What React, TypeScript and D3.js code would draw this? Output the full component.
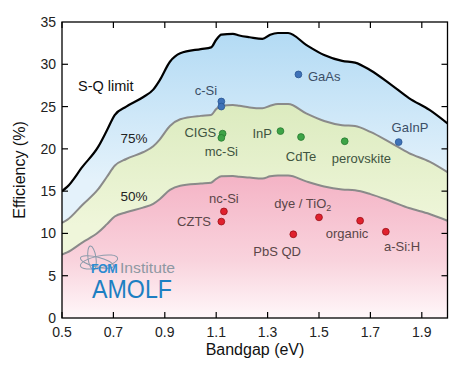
import React from "react";
import * as d3 from "d3";

const bandgap = [0.5, 0.52, 0.58, 0.64, 0.675, 0.705, 0.75, 0.815, 0.855, 0.88, 0.92, 0.96, 1.04, 1.08, 1.1, 1.12, 1.165, 1.19, 1.23, 1.28, 1.31, 1.34, 1.38, 1.45, 1.52, 1.59, 1.64, 1.7, 1.78, 1.85, 1.93, 2.0];
const sqLimit = [15.0, 15.5, 17.9, 20.2, 22.2, 24.0, 25.0, 26.1, 27.0, 28.1, 30.3, 31.3, 31.8, 32.0, 32.9, 33.5, 33.6, 33.4, 33.2, 33.0, 33.5, 33.7, 33.7, 32.3, 31.1, 30.4, 30.2, 29.3, 27.6, 26.0, 24.6, 23.0];
const limit75 = [11.25, 11.6, 13.4, 15.2, 16.7, 18.0, 18.8, 19.6, 20.3, 21.1, 22.7, 23.5, 23.9, 24.0, 24.7, 25.1, 25.2, 25.1, 24.9, 24.8, 25.1, 25.3, 25.3, 24.2, 23.3, 22.8, 22.7, 22.0, 20.7, 19.5, 18.5, 17.25];
const limit50 = [7.5, 7.75, 8.95, 10.1, 11.1, 12.0, 12.5, 13.05, 13.5, 14.05, 15.15, 15.65, 15.9, 16.0, 16.45, 16.75, 16.8, 16.7, 16.6, 16.5, 16.75, 16.85, 16.85, 16.15, 15.55, 15.2, 15.1, 14.65, 13.8, 13.0, 12.3, 11.5];

const cellGap = [1.12, 1.12, 1.42, 1.81, 1.125, 1.12, 1.35, 1.43, 1.6, 1.13, 1.12, 1.4, 1.5, 1.66, 1.76];
const cellEff = [25.6, 25.0, 28.8, 20.8, 21.8, 21.3, 22.1, 21.4, 20.9, 12.6, 11.4, 9.9, 11.9, 11.5, 10.2];
const cellClass = ["blue", "blue", "blue", "blue", "green", "green", "green", "green", "green", "red", "red", "red", "red", "red", "red"];

const labelText = ["c-Si", "GaAs", "GaInP", "CIGS", "mc-Si", "InP", "CdTe", "perovskite", "nc-Si", "CZTS", "PbS QD", "organic", "a-Si:H"];
const labelGap = [1.06, 1.457, 1.854, 1.1, 1.12, 1.317, 1.43, 1.665, 1.13, 1.08, 1.337, 1.609, 1.823];
const labelEff = [26.4, 28.0, 22.0, 21.4, 19.1, 21.3, 18.56, 18.3, 13.6, 10.88, 7.33, 9.46, 7.92];
const labelAnchor = ["middle", "start", "middle", "end", "middle", "end", "middle", "middle", "middle", "end", "middle", "middle", "middle"];
const labelClass = ["blue", "blue", "blue", "green", "green", "green", "green", "green", "red", "red", "red", "red", "red"];

const xTicks = [0.5, 0.7, 0.9, 1.1, 1.3, 1.5, 1.7, 1.9];
const yTicks = [0, 5, 10, 15, 20, 25, 30, 35];

const FONT = "'Liberation Sans', Arial, sans-serif";

export default function App() {
  const W = 475, H = 375;
  const x = d3.scaleLinear().domain([0.5, 2.0]).range([62, 447.5]);
  const y = d3.scaleLinear().domain([0, 35]).range([318, 22]);

  const idx = bandgap.map((_, i) => i);
  const curve = d3.curveMonotoneX;
  const line = (arr: number[]) =>
    d3.line<number>().x((i) => x(bandgap[i])).y((i) => y(arr[i])).curve(curve)(idx) || "";
  const band = (top: number[], bot: number[] | null) =>
    d3
      .area<number>()
      .x((i) => x(bandgap[i]))
      .y0((i) => (bot ? y(bot[i]) : y(0)))
      .y1((i) => y(top[i]))
      .curve(curve)(idx) || "";

  const colors: Record<string, [string, string]> = {
    blue: ["#3f72b8", "#2a5590"],
    green: ["#3ea447", "#277a30"],
    red: ["#e0212e", "#9a1018"],
  };

  const labelColor: Record<string, string> = {
    blue: "#3b4e66",
    green: "#3f5440",
    red: "#5a4648",
  };

  return (
    <svg width={W} height={H} style={{ position: "absolute", left: 0, top: 0, background: "#fff" }} fontFamily={FONT}>
      <defs>
        <linearGradient id="gBlue" gradientUnits="userSpaceOnUse" x1="0" y1="30" x2="0" y2="180">
          <stop offset="0" stopColor="#b2daf4" />
          <stop offset="1" stopColor="#e4f2fb" />
        </linearGradient>
        <linearGradient id="gGreen" gradientUnits="userSpaceOnUse" x1="0" y1="105" x2="0" y2="225">
          <stop offset="0" stopColor="#dcebbf" />
          <stop offset="1" stopColor="#eff6da" />
        </linearGradient>
        <linearGradient id="gPink" gradientUnits="userSpaceOnUse" x1="0" y1="175" x2="0" y2="318">
          <stop offset="0" stopColor="#f4b3c5" />
          <stop offset="0.6" stopColor="#f9d3dd" />
          <stop offset="1" stopColor="#fff7f9" />
        </linearGradient>
        <clipPath id="plotClip">
          <rect x={62} y={22} width={385.5} height={296} />
        </clipPath>
      </defs>

      <g clipPath="url(#plotClip)">
        <path d={band(sqLimit, limit75)} fill="url(#gBlue)" />
        <path d={band(limit75, limit50)} fill="url(#gGreen)" />
        <path d={band(limit50, null)} fill="url(#gPink)" />
        <path d={line(limit50)} fill="none" stroke="#8a8a8a" strokeWidth={2} />
        <path d={line(limit75)} fill="none" stroke="#8a8a8a" strokeWidth={2} />
        <path d={line(sqLimit)} fill="none" stroke="#000" strokeWidth={2.2} strokeLinejoin="round" />
      </g>

      {/* logo */}
      <g>
        <g fill="none" stroke="#8c9bab" strokeWidth={1}>
          <ellipse cx={99} cy={262} rx={19} ry={6} transform="rotate(-12 99 262)" />
          <ellipse cx={97} cy={262} rx={17} ry={5} transform="rotate(14 97 262)" />
          <ellipse cx={92} cy={258} rx={4} ry={12} transform="rotate(-8 92 258)" />
        </g>
        <text x={91} y={273} fontSize={12.5} fontWeight="bold" fill="#2b8bd1" letterSpacing={-0.6}>FOM</text>
        <text x={120} y={273} fontSize={14} fill="#8e98a2" textLength={55} lengthAdjust="spacingAndGlyphs">Institute</text>
        <text x={92} y={298} fontSize={25} fill="#1d7fc2" textLength={80} lengthAdjust="spacingAndGlyphs">AMOLF</text>
      </g>

      {/* band labels */}
      <text x={78} y={91} fontSize={14.5} fill="#111">S-Q limit</text>
      <text x={134} y={143} fontSize={13.5} fill="#222" textAnchor="middle">75%</text>
      <text x={134} y={201} fontSize={13.5} fill="#222" textAnchor="middle">50%</text>

      {labelText.map((t, i) => (
        <text
          key={i}
          x={x(labelGap[i])}
          y={y(labelEff[i])}
          fontSize={13}
          fill={labelColor[labelClass[i]]}
          textAnchor={labelAnchor[i]}
        >
          {t}
        </text>
      ))}
      <text x={x(1.437)} y={y(13.0)} fontSize={13} fill={labelColor.red} textAnchor="middle">
        dye / TiO<tspan fontSize={9} dy={3}>2</tspan>
      </text>

      {cellGap.map((g, i) => (
        <circle
          key={i}
          cx={x(g)}
          cy={y(cellEff[i])}
          r={3.4}
          fill={colors[cellClass[i]][0]}
          stroke={colors[cellClass[i]][1]}
          strokeWidth={0.8}
        />
      ))}

      {/* frame */}
      <rect x={62} y={22} width={385.5} height={296} fill="none" stroke="#000" strokeWidth={1.3} />
      {xTicks.map((t) => (
        <g key={"x" + t}>
          <line x1={x(t)} x2={x(t)} y1={318} y2={312} stroke="#000" strokeWidth={1.2} />
          <line x1={x(t)} x2={x(t)} y1={22} y2={28} stroke="#000" strokeWidth={1.2} />
          <text x={x(t)} y={337} fontSize={14} textAnchor="middle" fill="#222">{t.toFixed(1)}</text>
        </g>
      ))}
      {yTicks.map((t) => (
        <g key={"y" + t}>
          {t > 0 && t < 35 && (
            <>
              <line x1={62} x2={68} y1={y(t)} y2={y(t)} stroke="#000" strokeWidth={1.2} />
              <line x1={447.5} x2={441.5} y1={y(t)} y2={y(t)} stroke="#000" strokeWidth={1.2} />
            </>
          )}
          <text x={56} y={y(t) + 5} fontSize={14} textAnchor="end" fill="#222">{t}</text>
        </g>
      ))}

      <text x={255} y={355} fontSize={16} textAnchor="middle" fill="#111">Bandgap (eV)</text>
      <text transform="translate(25,170) rotate(-90)" fontSize={16} textAnchor="middle" fill="#111">Efficiency (%)</text>
    </svg>
  );
}
